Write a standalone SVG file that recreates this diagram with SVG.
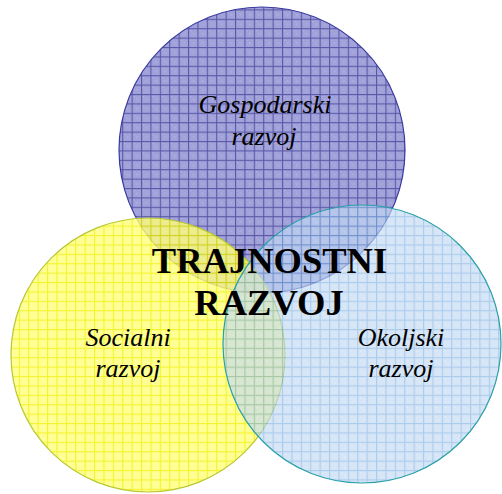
<svg xmlns="http://www.w3.org/2000/svg" width="502" height="494" viewBox="0 0 502 494">
<defs>
<pattern id="pPurple" patternUnits="userSpaceOnUse" width="9.4" height="9.4">
<rect width="9.4" height="9.4" fill="#a2a2da"/>
<rect x="2" y="2" width="1" height="1" fill="#bcbce8"/><rect x="5" y="5" width="1" height="1" fill="#bcbce8"/>
<rect x="0" y="0" width="9.4" height="1.1" fill="#5858a8"/>
<rect x="0" y="0" width="1.1" height="9.4" fill="#5858a8"/>
</pattern>
<pattern id="pYellow" patternUnits="userSpaceOnUse" width="9.4" height="9.4">
<rect width="9.4" height="9.4" fill="#ffff78"/>
<rect x="3" y="3" width="1" height="1" fill="#ffffb0"/><rect x="6" y="6" width="1" height="1" fill="#ffffb0"/>
<rect x="0" y="0" width="9.4" height="1.1" fill="#f0f000"/>
<rect x="0" y="0" width="1.1" height="9.4" fill="#f0f000"/>
</pattern>
<pattern id="pBlue" patternUnits="userSpaceOnUse" width="9.4" height="9.4">
<rect width="9.4" height="9.4" fill="#c0d8f2"/>
<rect x="3" y="3" width="1" height="1" fill="#d8e8f8"/><rect x="6" y="6" width="1" height="1" fill="#d8e8f8"/>
<rect x="0" y="0" width="9.4" height="1.1" fill="#7eb0e2"/>
<rect x="0" y="0" width="1.1" height="9.4" fill="#7eb0e2"/>
</pattern>
</defs>
<style>
.lbl{font-family:"Liberation Serif","Times New Roman",serif;font-style:italic;font-size:26px;fill:#000;text-anchor:middle}
.title{font-family:"Liberation Serif","Times New Roman",serif;font-weight:bold;font-size:36.5px;fill:#000;text-anchor:middle}
</style>
<g id="gospodarski">
<circle cx="262" cy="150" r="143" fill="url(#pPurple)" stroke="#3a3aa0" stroke-width="1.2"/>
</g>
<g id="socialni">
<circle cx="148" cy="355" r="137" fill="url(#pYellow)" fill-opacity="0.8" stroke="#b8c830" stroke-width="1.2"/>
</g>
<g id="okoljski">
<circle cx="362" cy="344" r="139" fill="url(#pBlue)" fill-opacity="0.65" stroke="#2aa0a8" stroke-width="1.2"/>
</g>
<g id="labels">
<text class="lbl" x="265" y="113">Gospodarski</text>
<text class="lbl" x="264" y="145">razvoj</text>
<text class="lbl" x="128" y="346">Socialni</text>
<text class="lbl" x="128" y="377">razvoj</text>
<text class="lbl" x="401" y="346">Okoljski</text>
<text class="lbl" x="401" y="377">razvoj</text>
</g>
<g id="center">
<text class="title" x="269.5" y="273">TRAJNOSTNI</text>
<text class="title" x="269" y="315">RAZVOJ</text>
</g>
<g id="connectors"/>
</svg>
